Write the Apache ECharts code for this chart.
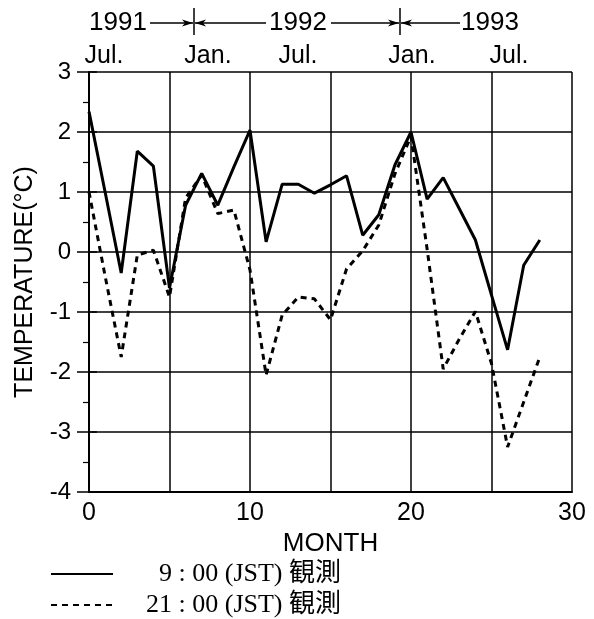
<!DOCTYPE html>
<html>
<head>
<meta charset="utf-8">
<script src="https://cdn.jsdelivr.net/npm/echarts@6/dist/echarts.min.js"></script>
<style>html,body{margin:0;padding:0;background:#fff}#c{width:594px;height:619px}</style>
</head>
<body>
<div id="c"></div>
<script>
var months = [0,1,2,3,4,5,6,7,8,9,10,11,12,13,14,15,16,17,18,19,20,21,22,23,24,25,26,27,28];
var obs9 = [2.34,1.0,-0.35,1.68,1.43,-0.6,0.78,1.31,0.78,1.42,2.03,0.17,1.13,1.13,0.98,1.12,1.27,0.28,0.62,1.45,2.0,0.88,1.24,0.72,0.2,-0.72,-1.63,-0.22,0.2];
var obs21 = [1.0,-0.4,-1.75,-0.05,0.03,-0.75,0.9,1.28,0.64,0.7,-0.3,-2.05,-1.05,-0.75,-0.78,-1.13,-0.28,0.02,0.45,1.3,1.93,0.05,-1.95,-1.45,-0.99,-1.86,-3.25,-2.5,-1.75];
var seriesNames = ['9 : 00 (JST) 観測', '21 : 00 (JST) 観測'];
var yearLabels = ['1991', '1992', '1993'];
var monthLabels = ['Jul.', 'Jan.', 'Jul.', 'Jan.', 'Jul.'];

function pairs(xs, ys){ return xs.map(function(x,i){ return [x, ys[i]]; }); }

var chart = echarts.init(document.getElementById('c'));
var sans = 'Liberation Sans, Arial, sans-serif';
var serif = 'Liberation Serif, Noto Sans CJK JP, serif';

function arrowLine(x1, x2, y, dir){
  var els = [{type:'line', shape:{x1:x1,y1:y,x2:x2,y2:y}, style:{stroke:'#000', lineWidth:1.5}}];
  if (dir === 1) {
    els.push({type:'polygon', shape:{points:[[x2-11,y-3.5],[x2,y],[x2-11,y+3.5],[x2-8,y]]}, style:{fill:'#000'}});
  } else {
    els.push({type:'polygon', shape:{points:[[x1+11,y-3.5],[x1,y],[x1+11,y+3.5],[x1+8,y]]}, style:{fill:'#000'}});
  }
  return els;
}

var g = [];
var yearX = [118, 298, 490];
yearLabels.forEach(function(t,i){
  g.push({type:'text', x:yearX[i], y:23, style:{text:t, font:'26px ' + sans, fill:'#000', textAlign:'center', textVerticalAlign:'middle'}});
});
g = g.concat(arrowLine(150, 193, 23, 1));
g = g.concat(arrowLine(195, 266, 23, -1));
g = g.concat(arrowLine(331, 399, 23, 1));
g = g.concat(arrowLine(401, 460, 23, -1));
g.push({type:'line', shape:{x1:194,y1:8,x2:194,y2:35}, style:{stroke:'#000', lineWidth:1.5}});
g.push({type:'line', shape:{x1:400,y1:8,x2:400,y2:35}, style:{stroke:'#000', lineWidth:1.5}});
var monX = [104, 208, 298, 412, 509];
monthLabels.forEach(function(t,i){
  g.push({type:'text', x:monX[i], y:56, style:{text:t, font:'25px ' + sans, fill:'#000', textAlign:'center', textVerticalAlign:'middle'}});
});

var option = {
  animation: false,
  backgroundColor: '#fff',
  grid: {left: 89, right: 22, top: 72, bottom: 127, containLabel: false, outerBoundsMode: 'none'},
  xAxis: {
    type: 'value', min: 0, max: 30, interval: 5,
    name: 'MONTH', nameLocation: 'middle', nameGap: 22,
    nameTextStyle: {fontFamily: sans, fontSize: 26, color: '#000', lineHeight: 12},
    axisLine: {show: true, onZero: false, lineStyle: {color: '#000', width: 2}},
    axisTick: {show: false},
    axisLabel: {fontFamily: sans, fontSize: 25, color: '#000', margin: 9,
      formatter: function(v){ return v % 10 === 0 ? String(v) : ''; }},
    splitLine: {show: true, lineStyle: {color: '#000', width: 1.5}}
  },
  yAxis: [{
    type: 'value', min: -4, max: 3, interval: 1,
    name: 'TEMPERATURE(°C)', nameLocation: 'middle', nameGap: 51, nameRotate: 90,
    nameTextStyle: {fontFamily: sans, fontSize: 25, color: '#000'},
    axisLine: {show: true, onZero: false, lineStyle: {color: '#000', width: 2}},
    axisTick: {show: true, length: 12, lineStyle: {color: '#000', width: 1.5}},
    minorTick: {show: true, splitNumber: 2, length: 6, lineStyle: {color: '#000', width: 1.2}},
    axisLabel: {fontFamily: sans, fontSize: 24, color: '#000', margin: 18},
    splitLine: {show: true, lineStyle: {color: '#000', width: 1.5}}
  }, {
    type: 'value', min: -4, max: 3, interval: 1, position: 'left',
    axisLine: {show: false},
    axisTick: {show: true, inside: true, length: 8, lineStyle: {color: '#000', width: 1.5}},
    axisLabel: {show: false},
    splitLine: {show: false}
  }],
  legend: {
    orient: 'vertical', left: 50, top: 561, height: 58, itemWidth: 62, itemHeight: 14, itemGap: 5,
    padding: 0,
    data: seriesNames,
    itemStyle: {opacity: 0},
    textStyle: {
      fontFamily: serif, fontSize: 26, color: '#000', lineHeight: 26,
      rich: {
        h1: {fontFamily: serif, fontSize: 26, color: '#000', padding: [0, 0, 0, 41]},
        h2: {fontFamily: serif, fontSize: 26, color: '#000', padding: [0, 0, 0, 28]},
        r: {fontFamily: serif, fontSize: 26, color: '#000'}
      }
    },
    formatter: function(name){
      var idx = name.indexOf(' ');
      var hour = name.slice(0, idx);
      return '{' + (hour.length === 1 ? 'h1' : 'h2') + '|' + hour + '}{r|' + name.slice(idx) + '}';
    }
  },
  graphic: g,
  series: [{
    name: seriesNames[0], type: 'line', data: pairs(months, obs9), symbol: 'none',
    itemStyle: {color: '#000'},
    lineStyle: {color: '#000', width: 3, type: 'solid'}, z: 3
  }, {
    name: seriesNames[1], type: 'line', data: pairs(months, obs21), symbol: 'none',
    itemStyle: {color: '#000'},
    lineStyle: {color: '#000', width: 3, type: [6, 5]}, z: 2
  }]
};
chart.setOption(option);
</script>
</body>
</html>
